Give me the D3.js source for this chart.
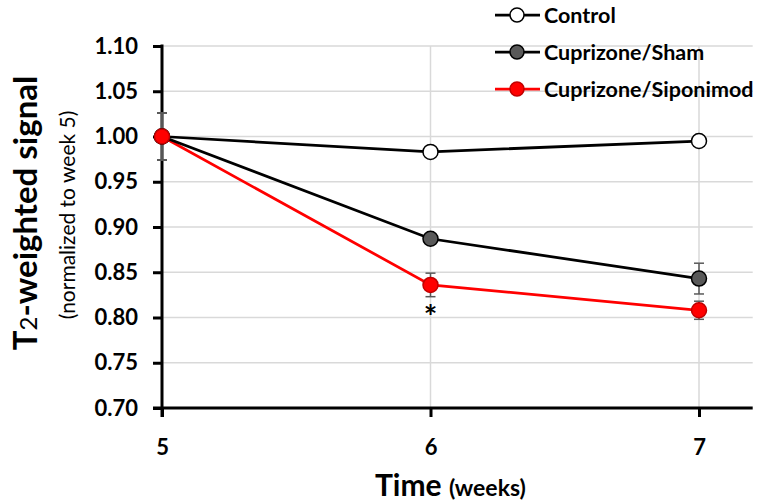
<!DOCTYPE html>
<html>
<head>
<meta charset="utf-8">
<script src="https://cdn.jsdelivr.net/npm/d3@7"></script>
<style>
  body { margin: 0; background: #fff; }
  text { font-family: Lato, "Open Sans", sans-serif; }
</style>
</head>
<body>
<div id="chart"></div>
<script>
// data
var weeks = [5, 6, 7];
var seriesNames = ['Control', 'Cuprizone/Sham', 'Cuprizone/Siponimod'];
var control = [1.000, 0.983, 0.995];
var sham = [1.000, 0.887, 0.843];
var siponimod = [1.000, 0.836, 0.808];
var controlErr = [0.026, 0.004, 0.004];
var shamErr = [0.026, 0.005, 0.017];
var siponimodErr = [0.026, 0.013, 0.010];
var yTicks = [0.70, 0.75, 0.80, 0.85, 0.90, 0.95, 1.00, 1.05, 1.10];

var svgWidth = 765, svgHeight = 504;
var svg = d3.select('#chart').append('svg')
    .attr('width', svgWidth)
    .attr('height', svgHeight);

var xMax = 7.2;
var x = d3.scaleLinear().domain([5, 7]).range([162, 699]);
var y = d3.scaleLinear().domain([0.70, 1.10]).range([408, 46]);

// grid
svg.append('g').selectAll('line')
    .data(yTicks.slice(1))
    .enter().append('line')
    .attr('x1', x(5)).attr('x2', x(xMax))
    .attr('y1', d => y(d)).attr('y2', d => y(d))
    .attr('stroke', '#d9d9d9').attr('stroke-width', 1.5);
svg.append('g').selectAll('line')
    .data(weeks.slice(1))
    .enter().append('line')
    .attr('x1', d => x(d)).attr('x2', d => x(d))
    .attr('y1', y(1.10)).attr('y2', y(0.70))
    .attr('stroke', '#d9d9d9').attr('stroke-width', 1.5);

// axes
var yAxis = d3.axisLeft(y).tickValues(yTicks).tickFormat(d3.format('.2f')).tickSize(9).tickPadding(15);
var xAxis = d3.axisBottom(x).tickValues(weeks).tickFormat(d3.format('d')).tickSize(9).tickPadding(22);

var gy = svg.append('g').attr('transform', 'translate(' + x(5) + ',0)').call(yAxis);
var gx = svg.append('g').attr('transform', 'translate(0,' + y(0.70) + ')').call(xAxis);
[gy, gx].forEach(function(g) {
    g.select('.domain').remove();
    g.selectAll('.tick line').attr('stroke', '#000').attr('stroke-width', 3);
    g.selectAll('.tick text').attr('fill', '#000')
        .style('font-size', '22px').style('font-weight', 'bold');
});
// axis lines
svg.append('line').attr('x1', x(5)).attr('x2', x(5)).attr('y1', y(1.10) - 1.5).attr('y2', y(0.70) + 9)
    .attr('stroke', '#000').attr('stroke-width', 3);
svg.append('line').attr('x1', x(5) - 9).attr('x2', x(xMax)).attr('y1', y(0.70)).attr('y2', y(0.70))
    .attr('stroke', '#000').attr('stroke-width', 3);

// series
var series = [
    { name: seriesNames[0], vals: control, err: controlErr, line: '#000', fill: '#fff', stroke: '#000' },
    { name: seriesNames[1], vals: sham, err: shamErr, line: '#000', fill: '#595959', stroke: '#000' },
    { name: seriesNames[2], vals: siponimod, err: siponimodErr, line: '#ff0000', fill: '#ff0000', stroke: '#c00000' }
];

var line = d3.line().x(d => x(d[0])).y(d => y(d[1]));

// error bars
series.forEach(function(s) {
    var g = svg.append('g');
    weeks.forEach(function(w, i) {
        var cx = x(w), top = y(s.vals[i] + s.err[i]), bot = y(s.vals[i] - s.err[i]);
        g.append('line').attr('x1', cx).attr('x2', cx).attr('y1', top).attr('y2', bot)
            .attr('stroke', '#595959').attr('stroke-width', 1.5);
        [top, bot].forEach(function(yy) {
            g.append('line').attr('x1', cx - 5).attr('x2', cx + 5).attr('y1', yy).attr('y2', yy)
                .attr('stroke', '#595959').attr('stroke-width', 1.5);
        });
    });
});

// lines
[series[2], series[1], series[0]].forEach(function(s) {
    svg.append('path')
        .datum(weeks.map((w, i) => [w, s.vals[i]]))
        .attr('d', line)
        .attr('fill', 'none')
        .attr('stroke', s.line)
        .attr('stroke-width', 2.75);
});
series.forEach(function(s) {
    svg.append('g').selectAll('circle')
        .data(weeks.map((w, i) => [w, s.vals[i]]))
        .enter().append('circle')
        .attr('cx', d => x(d[0])).attr('cy', d => y(d[1]))
        .attr('r', 7.5)
        .attr('fill', s.fill)
        .attr('stroke', s.stroke)
        .attr('stroke-width', 1.5);
});

// significance mark
svg.append('text')
    .attr('x', x(6)).attr('y', 329)
    .attr('text-anchor', 'middle')
    .style('font-size', '32px').style('font-weight', 'bold')
    .text('*');

// legend
var legendG = svg.selectAll('.legend')
    .data(series)
    .enter().append('g')
    .attr('class', 'legend')
    .attr('transform', (d, i) => 'translate(495,' + [15, 52, 89][i] + ')');
legendG.append('line')
    .attr('x1', 0).attr('x2', 45)
    .attr('stroke', d => d.line).attr('stroke-width', 2.75);
legendG.append('circle')
    .attr('cx', 22).attr('r', 7)
    .attr('fill', d => d.fill).attr('stroke', d => d.stroke).attr('stroke-width', 1.5);
legendG.append('text')
    .attr('x', 49).attr('y', 8)
    .style('font-size', '21.5px').style('font-weight', 'bold')
    .text(d => d.name);

// x title
var xt = svg.append('text')
    .attr('x', 375).attr('y', 496);
xt.append('tspan').style('font-size', '30px').style('font-weight', 'bold').text('Time ');
xt.append('tspan').style('font-size', '23px').style('font-weight', 'bold').text('(weeks)');

// y title
var yt = svg.append('text')
    .attr('transform', 'translate(37,213) rotate(-90)')
    .attr('text-anchor', 'middle')
    .style('font-size', '33px').style('font-weight', 'bold');
yt.append('tspan').text('T');
yt.append('tspan').style('font-size', '24px').style('font-weight', 'normal').text('2');
yt.append('tspan').text('-weighted signal');
svg.append('text')
    .attr('transform', 'translate(75,215) rotate(-90)')
    .attr('text-anchor', 'middle')
    .style('font-size', '21px')
    .text('(normalized to week 5)');
</script>
</body>
</html>
